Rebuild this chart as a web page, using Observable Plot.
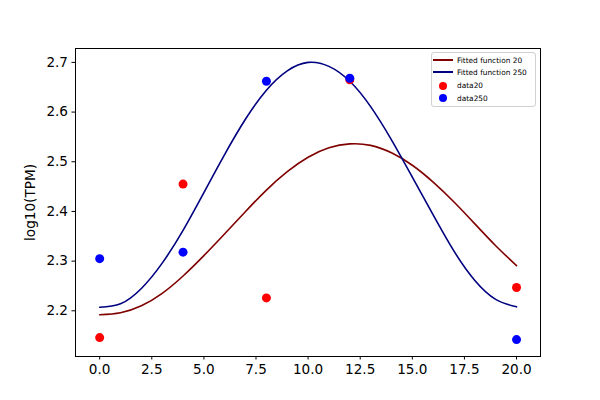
<!DOCTYPE html>
<html>
<head>
<meta charset="utf-8">
<script src="https://cdn.jsdelivr.net/npm/d3@7"></script>
<script src="https://cdn.jsdelivr.net/npm/@observablehq/plot@0.6"></script>
<style>
  body { margin: 0; background: white; }
  #wrap { position: relative; width: 600px; height: 400px; font-family: "DejaVu Sans", sans-serif; }
  #legend { position: absolute; left: 431px; top: 52px; width: 105px; height: 55px; border: 1px solid #d0d0d0; border-radius: 3px; background: rgba(255,255,255,0.8); box-sizing: border-box; font-size: 7.4px; color: #000; }
  .row { position: absolute; left: 0; height: 10px; display: flex; align-items: center; }
  .sw { width: 20px; height: 10px; position: relative; margin-left: 1px; margin-right: 4px; }
  .ln { position: absolute; left: 0; right: 0; top: 4px; height: 2px; }
  .dt { position: absolute; left: 6px; top: 1px; width: 8px; height: 8px; border-radius: 50%; }
</style>
</head>
<body>
<div id="wrap"></div>
<script>
// Fitted curves
const fitX = [0,1,2,3,4,5,6,7,8,9,10,11,12,13,14,15,16,17,18,19,20];
const fit20 = [2.192,2.196,2.210,2.235,2.270,2.311,2.355,2.400,2.443,2.480,2.509,2.528,2.536,2.533,2.518,2.493,2.459,2.419,2.375,2.331,2.291];
const fit250 = [2.207,2.214,2.245,2.296,2.362,2.438,2.515,2.586,2.644,2.683,2.700,2.692,2.662,2.611,2.544,2.469,2.393,2.320,2.261,2.223,2.208];
// Observations
const dataX = [0,4,8,12,20];
const data20 = [2.146,2.455,2.226,2.665,2.247];
const data250 = [2.305,2.318,2.662,2.668,2.142];
const xTicks = [0,2.5,5,7.5,10,12.5,15,17.5,20];
const yTicks = [2.2,2.3,2.4,2.5,2.6,2.7];

const lineRows = [];
fitX.forEach((x,i) => { lineRows.push({x, y: fit20[i], s: "Fitted function 20"}); });
fitX.forEach((x,i) => { lineRows.push({x, y: fit250[i], s: "Fitted function 250"}); });
const dots20 = dataX.map((x,i) => ({x, y: data20[i]}));
const dots250 = dataX.map((x,i) => ({x, y: data250[i]}));

const chart = Plot.plot({
  width: 600, height: 400,
  marginLeft: 75, marginRight: 60, marginTop: 48, marginBottom: 44,
  style: { fontFamily: "DejaVu Sans, sans-serif", fontSize: "13.6px", color: "black", background: "white" },
  x: { domain: [-1.16, 21.15] },
  y: { domain: [2.108, 2.728] },
  marks: [
    Plot.line(lineRows.filter(d => d.s === "Fitted function 20"), {x: "x", y: "y", stroke: "#800000", strokeWidth: 1.6, curve: "natural"}),
    Plot.line(lineRows.filter(d => d.s === "Fitted function 250"), {x: "x", y: "y", stroke: "#000080", strokeWidth: 1.6, curve: "natural"}),
    Plot.dot(dots20, {x: "x", y: "y", r: 4.5, fill: "#ff0000"}),
    Plot.dot(dots250, {x: "x", y: "y", r: 4.5, fill: "#0000ff"}),
    Plot.axisX({ticks: xTicks, tickFormat: d => d.toFixed(1), tickSize: 3.5, tickPadding: 4, label: null}),
    Plot.axisY({ticks: yTicks, tickFormat: d => d.toFixed(1), tickSize: 3.5, tickPadding: 4, label: "log10(TPM)", labelAnchor: "center", labelArrow: "none", labelOffset: 50}),
    Plot.frame({stroke: "black", strokeWidth: 1})
  ]
});
const wrap = document.getElementById("wrap");
wrap.appendChild(chart);

const legendItems = [
  {label: "Fitted function 20", type: "line", color: "#800000"},
  {label: "Fitted function 250", type: "line", color: "#000080"},
  {label: "data20", type: "dot", color: "#ff0000"},
  {label: "data250", type: "dot", color: "#0000ff"}
];
const lg = document.createElement("div");
lg.id = "legend";
const rowTops = [2, 14, 27.5, 40];
legendItems.forEach((it, i) => {
  const r = document.createElement("div");
  r.className = "row";
  r.style.top = rowTops[i] + "px";
  const sw = document.createElement("div");
  sw.className = "sw";
  const m = document.createElement("div");
  m.className = it.type === "line" ? "ln" : "dt";
  m.style.background = it.color;
  sw.appendChild(m);
  r.appendChild(sw);
  const t = document.createElement("span");
  t.textContent = it.label;
  r.appendChild(t);
  lg.appendChild(r);
});
wrap.appendChild(lg);
</script>
</body>
</html>
